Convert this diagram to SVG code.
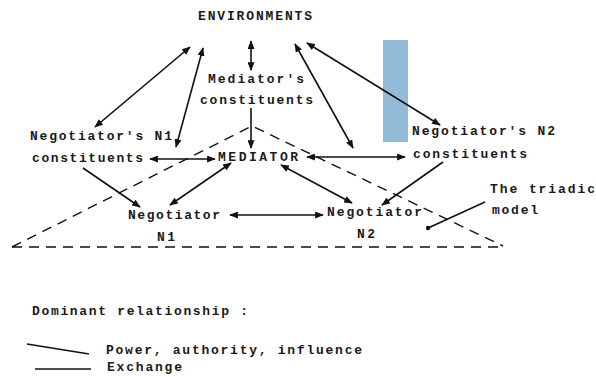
<svg xmlns="http://www.w3.org/2000/svg" width="596" height="377" viewBox="0 0 596 377">
<style>
text{font-family:"Liberation Mono","DejaVu Sans Mono",monospace;font-size:13px;font-weight:bold;fill:#1a1a1a}
.c line{stroke:#111;stroke-width:1.6;fill:none}
.d{stroke:#111;stroke-width:1.4;fill:none;stroke-dasharray:10 7}
</style>
<defs>
<marker id="ah" viewBox="0 0 10 8" refX="9" refY="4" markerWidth="9" markerHeight="7" markerUnits="userSpaceOnUse" orient="auto-start-reverse">
<path d="M0,0 L10,4 L0,8 z" fill="#111"/>
</marker>
</defs>
<rect x="383" y="40" width="25" height="102" fill="#93bbd8"/>
<g id="triangle">
<path class="d" d="M12,247 L252,126 L503,246"/>
<line class="d" x1="12" y1="247" x2="503" y2="247"/>
</g>
<g id="environments"><text x="198" y="20" textLength="114" lengthAdjust="spacing">ENVIRONMENTS</text></g>
<g id="mediators-constituents">
<text x="208" y="83" textLength="96" lengthAdjust="spacing">Mediator's</text>
<text x="200" y="104" textLength="113" lengthAdjust="spacing">constituents</text>
</g>
<g id="n1-constituents">
<text x="30" y="140" textLength="142" lengthAdjust="spacing">Negotiator's N1</text>
<text x="32" y="162" textLength="111" lengthAdjust="spacing">constituents</text>
</g>
<g id="mediator"><text x="218" y="161" textLength="80" lengthAdjust="spacing">MEDIATOR</text></g>
<g id="n2-constituents">
<text x="412" y="135" textLength="143" lengthAdjust="spacing">Negotiator's N2</text>
<text x="413" y="158" textLength="114" lengthAdjust="spacing">constituents</text>
</g>
<g id="negotiator-n1">
<text x="128" y="219" textLength="92" lengthAdjust="spacing">Negotiator</text>
<text x="157" y="241" textLength="18" lengthAdjust="spacing">N1</text>
</g>
<g id="negotiator-n2">
<text x="327" y="216" textLength="95" lengthAdjust="spacing">Negotiator</text>
<text x="357" y="238" textLength="18" lengthAdjust="spacing">N2</text>
</g>
<g id="triadic-label">
<text x="490" y="193" textLength="105" lengthAdjust="spacing">The triadic</text>
<text x="492" y="214" textLength="46" lengthAdjust="spacing">model</text>
<line x1="485" y1="202" x2="428" y2="228" stroke="#111" stroke-width="1.6"/>
<circle cx="428" cy="228" r="2.2" fill="#111"/>
</g>
<g class="c" id="connectors">
<line x1="95" y1="127" x2="190" y2="47" marker-start="url(#ah)" marker-end="url(#ah)"/>
<line x1="176" y1="147" x2="203" y2="48" marker-start="url(#ah)" marker-end="url(#ah)"/>
<line x1="251" y1="70" x2="251" y2="41" marker-start="url(#ah)" marker-end="url(#ah)"/>
<line x1="251" y1="108" x2="251" y2="148" marker-end="url(#ah)"/>
<line x1="353" y1="148" x2="295" y2="44" marker-start="url(#ah)" marker-end="url(#ah)"/>
<line x1="440" y1="125" x2="307" y2="43" marker-start="url(#ah)" marker-end="url(#ah)"/>
<line x1="150" y1="159" x2="215" y2="159" marker-start="url(#ah)" marker-end="url(#ah)"/>
<line x1="307" y1="157" x2="405" y2="157" marker-start="url(#ah)" marker-end="url(#ah)"/>
<line x1="83" y1="168" x2="140" y2="207" marker-end="url(#ah)"/>
<line x1="231" y1="163" x2="170" y2="205" marker-start="url(#ah)" marker-end="url(#ah)"/>
<line x1="230" y1="215" x2="323" y2="215" marker-start="url(#ah)" marker-end="url(#ah)"/>
<line x1="281" y1="165" x2="352" y2="203" marker-start="url(#ah)" marker-end="url(#ah)"/>
<line x1="443" y1="162" x2="382" y2="205" marker-end="url(#ah)"/>
</g>
<g id="legend">
<text x="32" y="315" textLength="216" lengthAdjust="spacing">Dominant relationship :</text>
<line x1="27" y1="344" x2="89" y2="354" stroke="#111" stroke-width="1.6"/>
<text x="106" y="354" textLength="256" lengthAdjust="spacing">Power, authority, influence</text>
<line x1="35" y1="369" x2="91" y2="369" stroke="#111" stroke-width="1.4"/>
<text x="107" y="371" textLength="75" lengthAdjust="spacing">Exchange</text>
</g>
</svg>
